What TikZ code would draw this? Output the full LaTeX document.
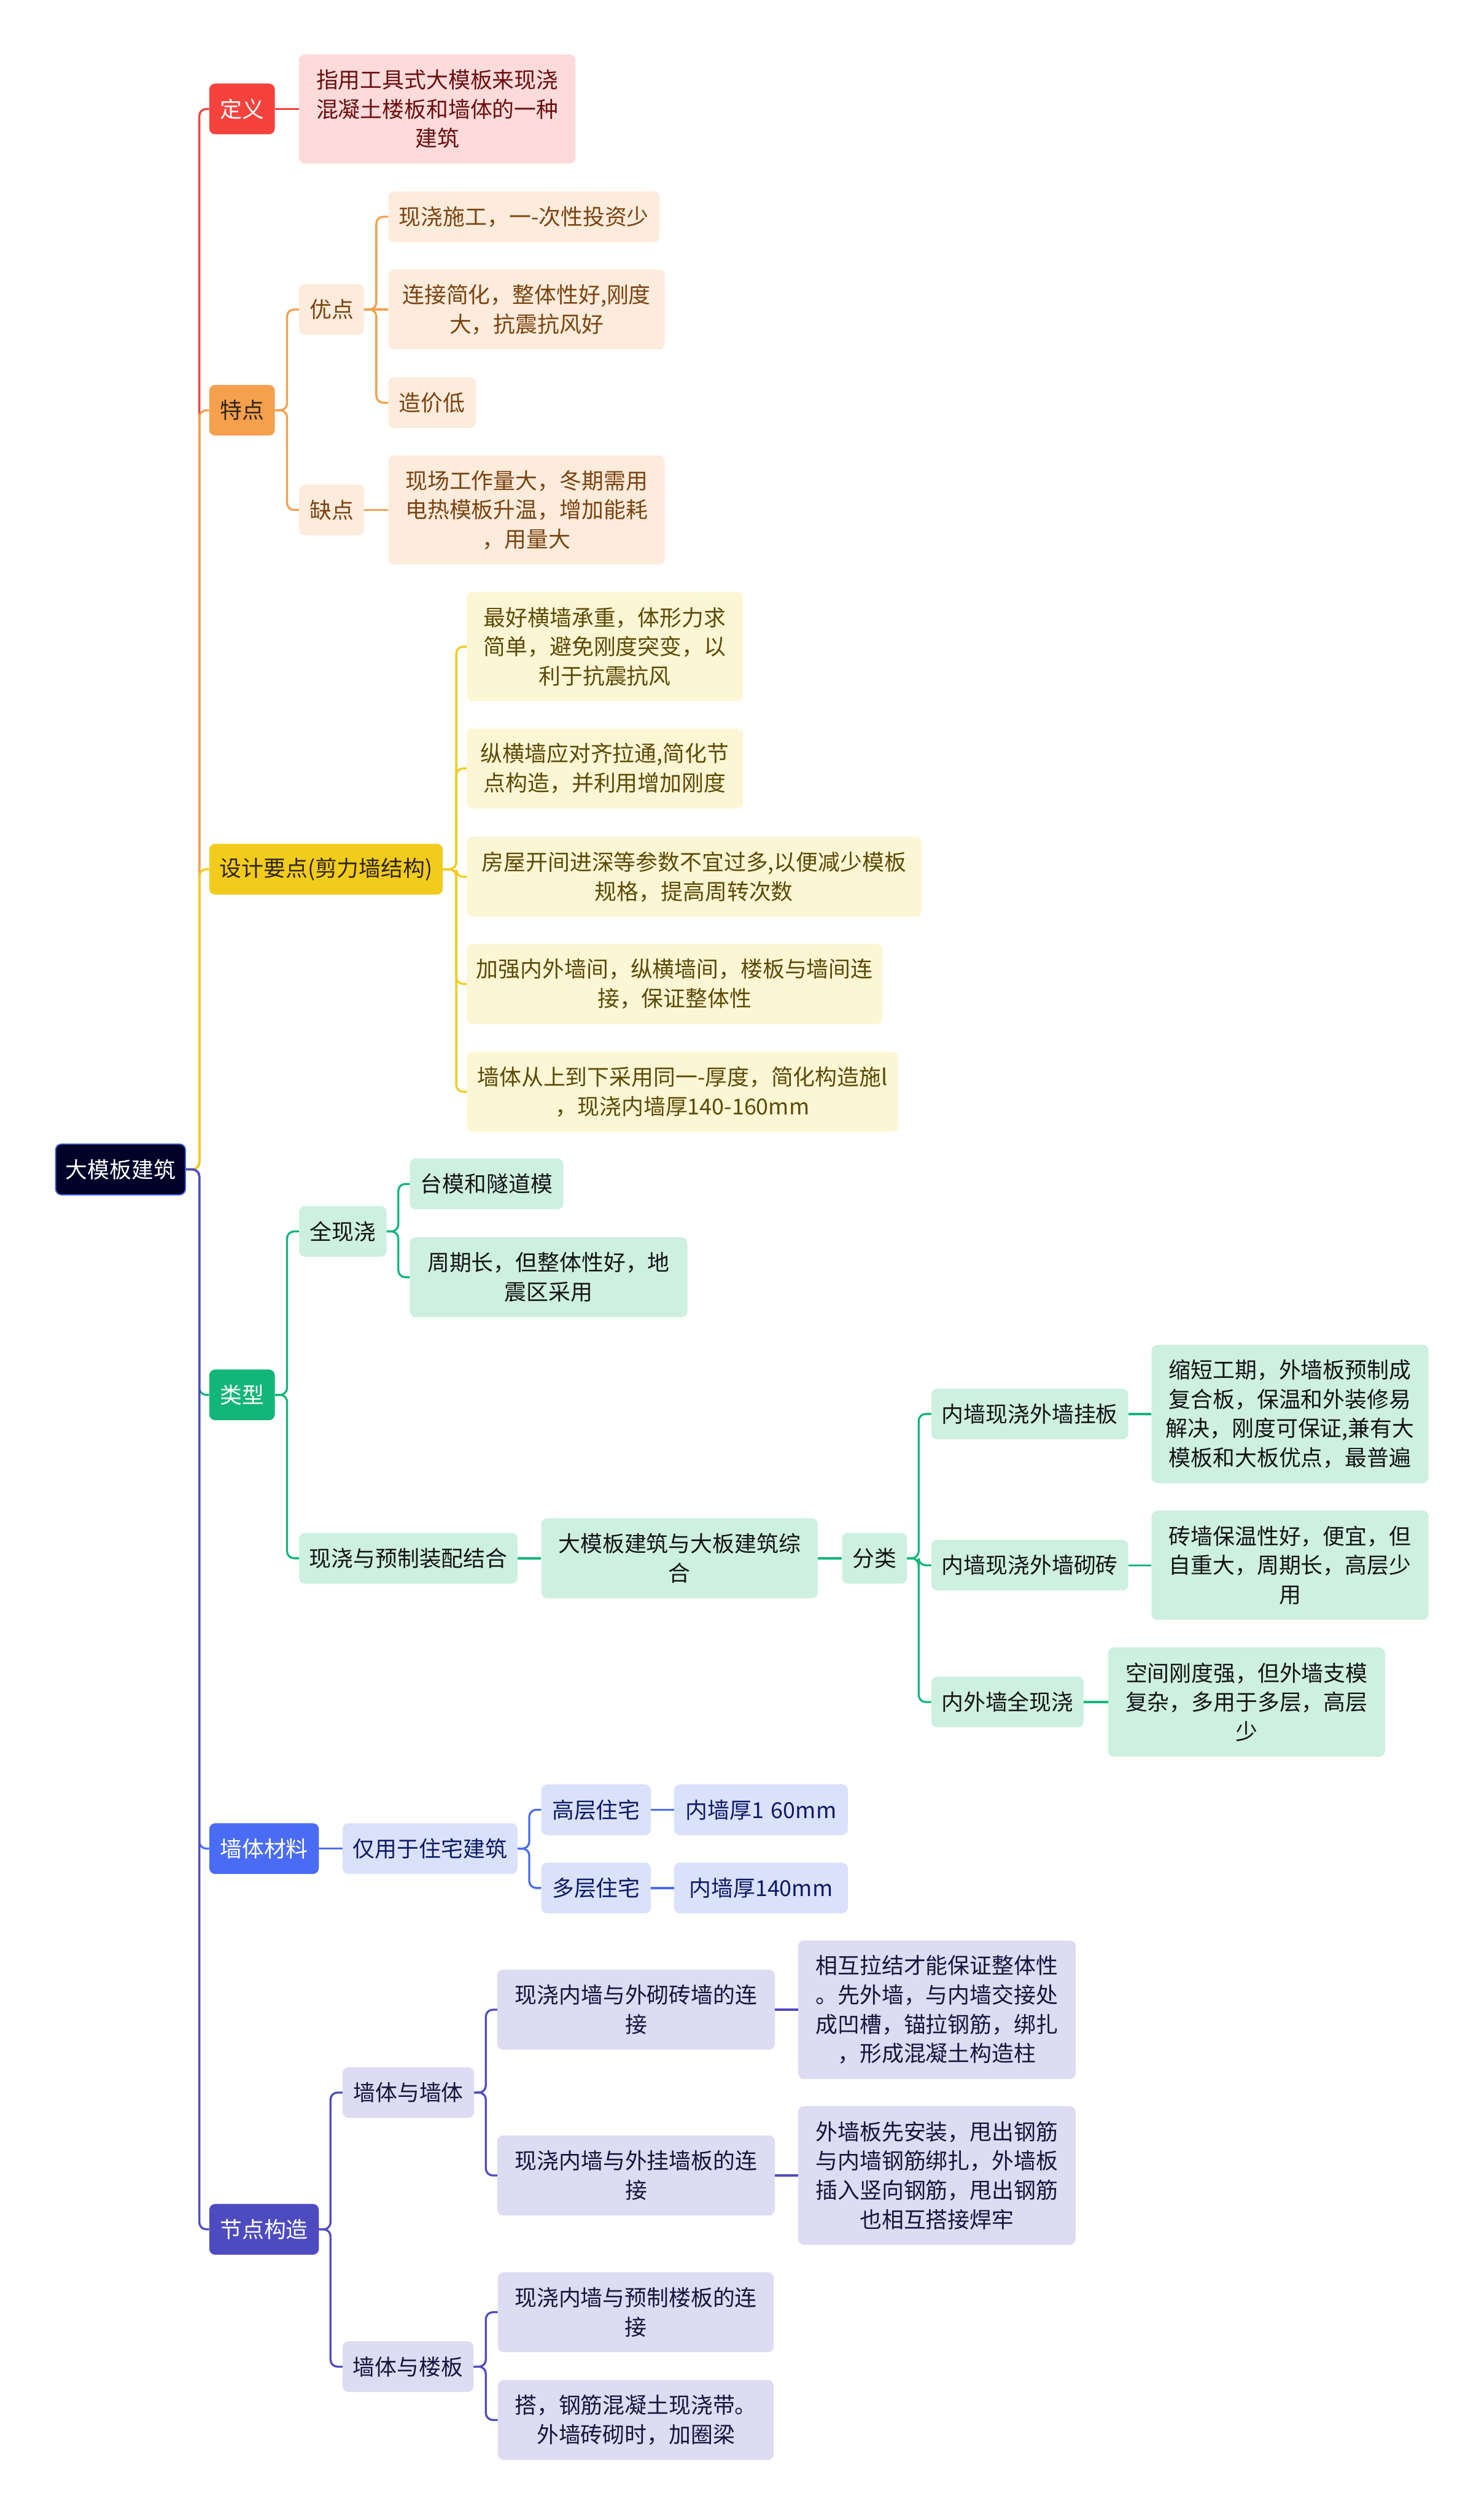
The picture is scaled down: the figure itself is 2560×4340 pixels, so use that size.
\documentclass[tikz,border=0pt]{standalone}
\usepackage{fontspec}
\newfontfamily\cjk{Noto Sans CJK SC}
\definecolor{rootbg}{HTML}{000229}
\definecolor{rootln}{HTML}{3F63D6}
\definecolor{defred}{HTML}{F5423D}
\definecolor{defbg}{HTML}{FDDBDB}
\definecolor{deftx}{HTML}{6B0E0E}
\definecolor{featorg}{HTML}{F5A04D}
\definecolor{featbg}{HTML}{FDEBDC}
\definecolor{feattx}{HTML}{7A4410}
\definecolor{darktx}{HTML}{2E2410}
\definecolor{desyel}{HTML}{F2CC1C}
\definecolor{desbg}{HTML}{FDF6D5}
\definecolor{destx}{HTML}{5C4A05}
\definecolor{typgrn}{HTML}{12B67A}
\definecolor{typbg}{HTML}{CDF0E1}
\definecolor{typtx}{HTML}{141414}
\definecolor{matblu}{HTML}{4A6CF5}
\definecolor{matbg}{HTML}{DAE1FA}
\definecolor{mattx}{HTML}{0E1A66}
\definecolor{jntind}{HTML}{4E4BC0}
\definecolor{jntbg}{HTML}{DDDCF3}
\definecolor{jnttx}{HTML}{15153D}

\begin{document}
\begin{tikzpicture}[
  x=1pt, y=-1pt,
  box/.style={rounded corners=10pt, inner xsep=0pt, inner ysep=0pt, align=center,
    anchor=west, font=\cjk\fontsize{38}{50.5}\selectfont},
  topic/.style 2 args={box, fill=#1, text=#2},
  leaf/.style 2 args={box, fill=#1, text=#2},
  boxw/.style={text width=#1pt},
  nrows/.style={minimum height=#1*50.5pt+37pt},
  link/.style={draw=#1, line width=3.5pt, rounded corners=12pt},
]

% Background
\fill[white] (0,0) rectangle (2560,4340);
\useasboundingbox (0,0) rectangle (2560,4340);

% =============================================
% Root
% =============================================
\node[box, fill=rootbg, draw=rootln, line width=2pt, text=white, boxw=224, nrows=1]
  (root) at (95,2018) {大模板建筑};

% =============================================
% Main topics
% =============================================
\node[topic={defred}{white}, boxw=113, nrows=1] (def) at (361,188) {定义};
\node[topic={featorg}{darktx}, boxw=113, nrows=1] (feat) at (361,708) {特点};
\node[topic={desyel}{darktx}, boxw=403, nrows=1] (design) at (361,1500) {设计要点(剪力墙结构)};
\node[topic={typgrn}{white}, boxw=113, nrows=1] (types) at (361,2407) {类型};
\node[topic={matblu}{white}, boxw=189, nrows=1] (material) at (361,3190) {墙体材料};
\node[topic={jntind}{white}, boxw=189, nrows=1] (joint) at (361,3847) {节点构造};

\draw[link=defred] (def.west) -| ([xshift=23pt]root.east) [sharp corners] -- (root.east);
\draw[link=featorg] (feat.west) -| ([xshift=23pt]root.east) [sharp corners] -- (root.east);
\draw[link=desyel] (design.west) -| ([xshift=23pt]root.east) [sharp corners] -- (root.east);
\draw[link=typgrn] (types.west) -| ([xshift=23pt]root.east) [sharp corners] -- (root.east);
\draw[link=matblu] (material.west) -| ([xshift=23pt]root.east) [sharp corners] -- (root.east);
\draw[link=jntind] (joint.west) -| ([xshift=23pt]root.east) [sharp corners] -- (root.east);

% =============================================
% Definition
% =============================================
\node[leaf={defbg}{deftx}, boxw=477, nrows=3] (defText) at (516,188)
  {指用工具式大模板来现浇\\混凝土楼板和墙体的一种\\建筑};
\draw[link=defred] (def.east) -- (defText.west);

% =============================================
% Features
% =============================================
\node[leaf={featbg}{feattx}, boxw=112, nrows=1] (pro) at (516,534) {优点};
\node[leaf={featbg}{feattx}, boxw=112, nrows=1] (con) at (516,880) {缺点};

\node[leaf={featbg}{feattx}, boxw=468, nrows=1] (pro1) at (670,374) {现浇施工，一-次性投资少};
\node[leaf={featbg}{feattx}, boxw=477, nrows=2] (pro2) at (670,534)
  {连接简化，整体性好,刚度\\大，抗震抗风好};
\node[leaf={featbg}{feattx}, boxw=151, nrows=1] (pro3) at (670,695) {造价低};
\node[leaf={featbg}{feattx}, boxw=477, nrows=3] (con1) at (670,880)
  {现场工作量大，冬期需用\\电热模板升温，增加能耗\\，用量大};

\draw[link=featorg] (pro.west) -| ([xshift=21pt]feat.east) [sharp corners] -- (feat.east);
\draw[link=featorg] (con.west) -| ([xshift=21pt]feat.east) [sharp corners] -- (feat.east);
\draw[link=featorg] (pro1.west) -| ([xshift=21pt]pro.east) [sharp corners] -- (pro.east);
\draw[link=featorg] (pro.east) -- (pro2.west);
\draw[link=featorg] (pro3.west) -| ([xshift=21pt]pro.east) [sharp corners] -- (pro.east);
\draw[link=featorg] (con.east) -- (con1.west);

% =============================================
% Design points
% =============================================
\node[leaf={desbg}{destx}, boxw=477, nrows=3] (des1) at (805,1116)
  {最好横墙承重，体形力求\\简单，避免刚度突变，以\\利于抗震抗风};
\node[leaf={desbg}{destx}, boxw=477, nrows=2] (des2) at (805,1326)
  {纵横墙应对齐拉通,简化节\\点构造，并利用增加刚度};
\node[leaf={desbg}{destx}, boxw=785, nrows=2] (des3) at (805,1513)
  {房屋开间进深等参数不宜过多,以便减少模板\\规格，提高周转次数};
\node[leaf={desbg}{destx}, boxw=718, nrows=2] (des4) at (805,1698)
  {加强内外墙间，纵横墙间，楼板与墙间连\\接，保证整体性};
\node[leaf={desbg}{destx}, boxw=745, nrows=2] (des5) at (805,1884)
  {墙体从上到下采用同一-厚度，简化构造施l\\，现浇内墙厚140-160mm};

\foreach \k in {1,...,5}
  \draw[link=desyel] (des\k.west) -| ([xshift=23pt]design.east) [sharp corners] -- (design.east);

% =============================================
% Types
% =============================================
\node[leaf={typbg}{typtx}, boxw=151, nrows=1] (full) at (516,2125) {全现浇};
\node[leaf={typbg}{typtx}, boxw=265, nrows=1] (full1) at (707,2043) {台模和隧道模};
\node[leaf={typbg}{typtx}, boxw=479, nrows=2] (full2) at (707,2204)
  {周期长，但整体性好，地\\震区采用};
\node[leaf={typbg}{typtx}, boxw=377, nrows=1] (mixed) at (516,2689) {现浇与预制装配结合};
\node[leaf={typbg}{typtx}, boxw=477, nrows=2] (mixed1) at (934,2689)
  {大模板建筑与大板建筑综\\合};
\node[leaf={typbg}{typtx}, boxw=112, nrows=1] (classify) at (1453,2689) {分类};

\node[leaf={typbg}{typtx}, boxw=340, nrows=1] (cls1) at (1607,2440) {内墙现浇外墙挂板};
\node[leaf={typbg}{typtx}, boxw=478, nrows=4] (cls1t) at (1987,2440)
  {缩短工期，外墙板预制成\\复合板，保温和外装修易\\解决，刚度可保证,兼有大\\模板和大板优点，最普遍};
\node[leaf={typbg}{typtx}, boxw=340, nrows=1] (cls2) at (1607,2701) {内墙现浇外墙砌砖};
\node[leaf={typbg}{typtx}, boxw=478, nrows=3] (cls2t) at (1987,2701)
  {砖墙保温性好，便宜，但\\自重大，周期长，高层少\\用};
\node[leaf={typbg}{typtx}, boxw=263, nrows=1] (cls3) at (1607,2937) {内外墙全现浇};
\node[leaf={typbg}{typtx}, boxw=478, nrows=3] (cls3t) at (1912,2937)
  {空间刚度强，但外墙支模\\复杂，多用于多层，高层\\少};

\draw[link=typgrn] (full.west) -| ([xshift=21pt]types.east) [sharp corners] -- (types.east);
\draw[link=typgrn] (mixed.west) -| ([xshift=21pt]types.east) [sharp corners] -- (types.east);
\draw[link=typgrn] (full1.west) -| ([xshift=20pt]full.east) [sharp corners] -- (full.east);
\draw[link=typgrn] (full2.west) -| ([xshift=20pt]full.east) [sharp corners] -- (full.east);
\draw[link=typgrn] (mixed.east) -- (mixed1.west);
\draw[link=typgrn] (mixed1.east) -- (classify.west);
\foreach \k in {1,2,3} {
  \draw[link=typgrn] (cls\k.west) -| ([xshift=20pt]classify.east) [sharp corners] -- (classify.east);
  \draw[link=typgrn] (cls\k.east) -- (cls\k t.west);
}

% =============================================
% Wall material
% =============================================
\node[leaf={matbg}{mattx}, boxw=302, nrows=1] (resi) at (591,3190) {仅用于住宅建筑};
\node[leaf={matbg}{mattx}, boxw=189, nrows=1] (high) at (934,3123) {高层住宅};
\node[leaf={matbg}{mattx}, boxw=300, nrows=1] (highT) at (1163,3123) {内墙厚1 60mm};
\node[leaf={matbg}{mattx}, boxw=189, nrows=1] (multi) at (934,3258) {多层住宅};
\node[leaf={matbg}{mattx}, boxw=300, nrows=1] (multiT) at (1163,3258) {内墙厚140mm};

\draw[link=matblu] (material.east) -- (resi.west);
\draw[link=matblu] (high.west) -| ([xshift=20pt]resi.east) [sharp corners] -- (resi.east);
\draw[link=matblu] (multi.west) -| ([xshift=20pt]resi.east) [sharp corners] -- (resi.east);
\draw[link=matblu] (high.east) -- (highT.west);
\draw[link=matblu] (multi.east) -- (multiT.west);

% =============================================
% Joint details
% =============================================
\node[leaf={jntbg}{jnttx}, boxw=227, nrows=1] (wallWall) at (591,3611) {墙体与墙体};
\node[leaf={jntbg}{jnttx}, boxw=479, nrows=2] (ww1) at (858,3468)
  {现浇内墙与外砌砖墙的连\\接};
\node[leaf={jntbg}{jnttx}, boxw=479, nrows=4] (ww1t) at (1377,3468)
  {相互拉结才能保证整体性\\。先外墙，与内墙交接处\\成凹槽，锚拉钢筋，绑扎\\，形成混凝土构造柱};
\node[leaf={jntbg}{jnttx}, boxw=479, nrows=2] (ww2) at (858,3754)
  {现浇内墙与外挂墙板的连\\接};
\node[leaf={jntbg}{jnttx}, boxw=479, nrows=4] (ww2t) at (1377,3754)
  {外墙板先安装，甩出钢筋\\与内墙钢筋绑扎，外墙板\\插入竖向钢筋，甩出钢筋\\也相互搭接焊牢};

\node[leaf={jntbg}{jnttx}, boxw=226, nrows=1] (wallFloor) at (591,4084) {墙体与楼板};
\node[leaf={jntbg}{jnttx}, boxw=476, nrows=2] (wf1) at (859,3990)
  {现浇内墙与预制楼板的连\\接};
\node[leaf={jntbg}{jnttx}, boxw=476, nrows=2] (wf2) at (859,4176)
  {搭，钢筋混凝土现浇带。\\外墙砖砌时，加圈梁};

\draw[link=jntind] (wallWall.west) -| ([xshift=20pt]joint.east) [sharp corners] -- (joint.east);
\draw[link=jntind] (wallFloor.west) -| ([xshift=20pt]joint.east) [sharp corners] -- (joint.east);
\draw[link=jntind] (ww1.west) -| ([xshift=20pt]wallWall.east) [sharp corners] -- (wallWall.east);
\draw[link=jntind] (ww2.west) -| ([xshift=20pt]wallWall.east) [sharp corners] -- (wallWall.east);
\draw[link=jntind] (ww1.east) -- (ww1t.west);
\draw[link=jntind] (ww2.east) -- (ww2t.west);
\draw[link=jntind] (wf1.west) -| ([xshift=21pt]wallFloor.east) [sharp corners] -- (wallFloor.east);
\draw[link=jntind] (wf2.west) -| ([xshift=21pt]wallFloor.east) [sharp corners] -- (wallFloor.east);

\end{tikzpicture}
\end{document}
